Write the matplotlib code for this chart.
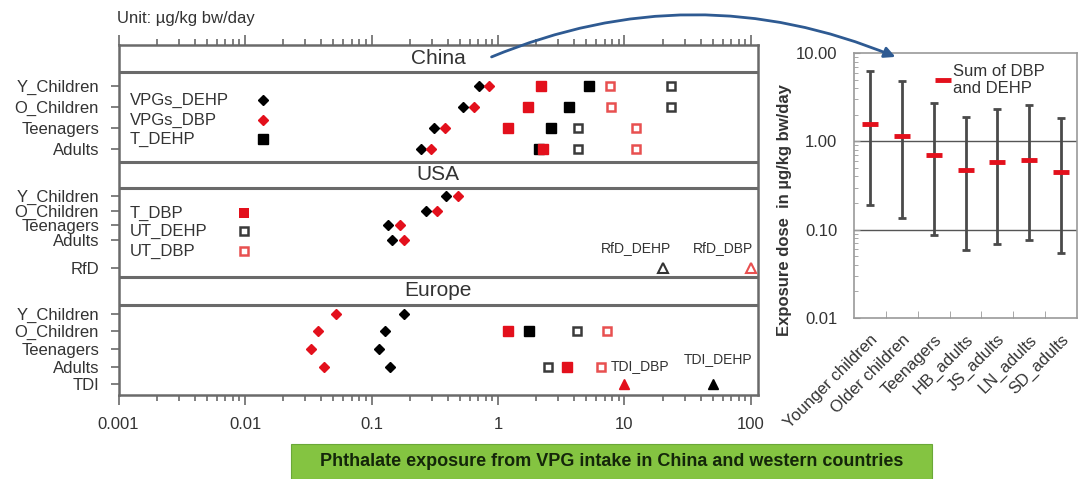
import numpy as np
import matplotlib
matplotlib.use("Agg")
import matplotlib.pyplot as plt
from matplotlib.patches import Rectangle, FancyArrowPatch
from matplotlib.ticker import FixedLocator, FuncFormatter, NullFormatter, LogLocator

plt.rcParams['font.family'] = ['Liberation Sans', 'DejaVu Sans']

# ---------------- data: left panel (µg/kg bw/day) ----------------
groups = ["Y_Children", "O_Children", "Teenagers", "Adults"]
nan = np.nan

china_vpgs_dehp = [0.71, 0.53, 0.31, 0.246]
china_vpgs_dbp = [0.85, 0.65, 0.38, 0.295]
china_t_dehp = [5.2, 3.64, 2.61, 2.12]
china_t_dbp = [2.18, 1.73, 1.19, 2.25]
china_ut_dehp = [23.3, 23.3, 4.29, 4.29]
china_ut_dbp = [7.7, 7.85, 12.4, 12.4]

usa_vpgs_dehp = [0.39, 0.27, 0.135, 0.146]
usa_vpgs_dbp = [0.48, 0.33, 0.167, 0.18]
rfd_dehp = 20
rfd_dbp = 100

europe_vpgs_dehp = [0.18, 0.127, 0.114, 0.141]
europe_vpgs_dbp = [0.052, 0.038, 0.033, 0.042]
europe_t_dehp = [nan, 1.76, nan, nan]
europe_t_dbp = [nan, 1.19, nan, 3.5]
europe_ut_dehp = [nan, 4.2, nan, 2.49]
europe_ut_dbp = [nan, 7.26, nan, 6.55]
tdi_dbp = 10
tdi_dehp = 50

x_tick_values = [0.001, 0.01, 0.1, 1, 10, 100]
x_tick_labels = ["0.001", "0.01", "0.1", "1", "10", "100"]

# ---------------- data: right panel ----------------
right_cats = ["Younger children", "Older children", "Teenagers", "HB_adults",
              "JS_adults", "LN_adults", "SD_adults"]
sum_dbp_dehp = [1.56, 1.15, 0.70, 0.47, 0.58, 0.62, 0.45]
sum_low = [0.19, 0.136, 0.086, 0.059, 0.069, 0.077, 0.055]
sum_high = [6.3, 4.77, 2.75, 1.89, 2.31, 2.57, 1.86]
right_yticks = [0.01, 0.1, 1, 10]

# ---------------- figure ----------------
W, H = 1078, 479
fig = plt.figure(figsize=(W / 100, H / 100), dpi=100)

def fx(px):
    return px / W

def fy(py):
    return 1 - py / H

TXT = '#333333'
RED = '#E3101C'
LRED = '#E85050'
FRAME = '#6a6a6a'

# ---- left axes (single axes, y in pixel-like layout units) ----
top_px, bot_px, left_px, right_px = 45, 395, 118.5, 758
ax = fig.add_axes([fx(left_px), fy(bot_px), fx(right_px - left_px), (bot_px - top_px) / H])
ax.set_xscale('log')
decade = 126.5
xmax = 10 ** (2 + (right_px - (left_px + 5 * decade)) / decade)
ax.set_xlim(0.001, xmax)
ax.set_ylim(bot_px, top_px)

# layout positions of rows (pixel rows of the reference)
china_rows = [86, 107, 128, 149]
usa_rows = [196, 211, 225, 240]
usa_rfd_row = 268
eu_rows = [314, 331, 349, 367]
eu_tdi_row = 384
strip_lines = [72, 162, 188, 277, 305]
headers = [("China", 58.5), ("USA", 175), ("Europe", 291)]

for yl in strip_lines:
    ax.axhline(yl, color=FRAME, lw=2.2, zorder=1)
for name, yy in headers:
    ax.text(0.5, yy, name, transform=ax.get_yaxis_transform(), ha='center', va='center',
            fontsize=15, color=TXT)

ms_d = 5
ms_s = 7

def diamonds(vals, rows, color):
    ax.plot(vals, rows, 'D', color=color, ms=ms_d, mec=color, ls='none', zorder=4)

def fsq(vals, rows, color):
    ax.plot(vals, rows, 's', color=color, ms=ms_s, mec=color, ls='none', zorder=4)

def osq(vals, rows, color):
    ax.plot(vals, rows, 's', mfc='white', mec=color, ms=ms_s - 1, mew=1.8, ls='none', zorder=4)

# China
diamonds(china_vpgs_dehp, china_rows, 'black')
diamonds(china_vpgs_dbp, china_rows, RED)
fsq(china_t_dehp, china_rows, 'black')
fsq(china_t_dbp, china_rows, RED)
osq(china_ut_dehp, china_rows, '#3a3a3a')
osq(china_ut_dbp, china_rows, LRED)
# USA
diamonds(usa_vpgs_dehp, usa_rows, 'black')
diamonds(usa_vpgs_dbp, usa_rows, RED)
ax.plot([rfd_dehp], [usa_rfd_row], '^', mfc='white', mec='#333333', mew=1.5, ms=7, zorder=4)
ax.plot([rfd_dbp], [usa_rfd_row], '^', mfc='white', mec=LRED, mew=1.5, ms=7, zorder=4)
ax.annotate("RfD_DEHP", (rfd_dehp, usa_rfd_row), xytext=(-19, 9), textcoords='offset points',
            ha='center', va='bottom', fontsize=10, color=TXT)
ax.annotate("RfD_DBP", (rfd_dbp, usa_rfd_row), xytext=(-20, 9), textcoords='offset points',
            ha='center', va='bottom', fontsize=10, color=TXT)
# Europe
diamonds(europe_vpgs_dehp, eu_rows, 'black')
diamonds(europe_vpgs_dbp, eu_rows, RED)
osq(europe_ut_dehp, eu_rows, '#3a3a3a')
fsq(europe_t_dehp, eu_rows, 'black')
fsq(europe_t_dbp, eu_rows, RED)
osq(europe_ut_dbp, eu_rows, LRED)
ax.plot([tdi_dbp], [eu_tdi_row], '^', color=RED, ms=6.5, zorder=4)
ax.plot([tdi_dehp], [eu_tdi_row], '^', color='black', ms=6.5, zorder=4)
ax.annotate("TDI_DBP", (tdi_dbp, eu_tdi_row), xytext=(11, 8), textcoords='offset points',
            ha='center', va='bottom', fontsize=10, color=TXT)
ax.annotate("TDI_DEHP", (tdi_dehp, eu_tdi_row), xytext=(4, 13), textcoords='offset points',
            ha='center', va='bottom', fontsize=10, color=TXT)

# in-panel legends
leg_text_x = 0.018
china_leg = [("VPGs_DEHP", 'D', 'black', 'black', 100), ("VPGs_DBP", 'D', RED, RED, 120),
             ("T_DEHP", 's', 'black', 'black', 139)]
for lab, mk, fc, ec, yy in china_leg:
    ax.text(leg_text_x, yy, lab, transform=ax.get_yaxis_transform(), ha='left', va='center',
            fontsize=12, color=TXT)
    ax.plot([0.0139], [yy], mk, mfc=fc, mec=ec, ms=ms_d if mk == 'D' else ms_s)
usa_leg = [("T_DBP", RED, RED, 213, 0), ("UT_DEHP", 'white', '#3a3a3a', 231, 1.8),
           ("UT_DBP", 'white', LRED, 251, 1.8)]
for lab, fc, ec, yy, mw in usa_leg:
    ax.text(leg_text_x, yy, lab, transform=ax.get_yaxis_transform(), ha='left', va='center',
            fontsize=12, color=TXT)
    ax.plot([0.0098], [yy], 's', mfc=fc, mec=ec, ms=ms_s if mw == 0 else ms_s - 1, mew=mw)

# y ticks
ytick_pos = china_rows + usa_rows + [usa_rfd_row] + eu_rows + [eu_tdi_row]
ytick_lab = groups + groups + ["RfD"] + groups + ["TDI"]
ax.set_yticks(ytick_pos)
ax.set_yticklabels(ytick_lab, fontsize=12, color=TXT)
ax.tick_params(axis='y', direction='out', length=6, width=1.2, color=FRAME, pad=8)

ax.xaxis.set_major_locator(FixedLocator(x_tick_values))
ax.xaxis.set_major_formatter(FuncFormatter(lambda v, p: x_tick_labels[x_tick_values.index(v)]
                                           if v in x_tick_values else ""))
ax.xaxis.set_minor_locator(LogLocator(base=10, subs=np.arange(2, 10)))
ax.xaxis.set_minor_formatter(NullFormatter())
ax.tick_params(axis='x', which='both', top=True, bottom=True, direction='out', color=FRAME,
               width=1.2, labelsize=12, labelcolor=TXT, pad=9)
ax.tick_params(axis='x', which='major', length=7)
ax.tick_params(axis='x', which='minor', length=4)
for s in ax.spines.values():
    s.set_color(FRAME)
    s.set_linewidth(1.8)

# ---- right axes ----
rx0, rx1, ry0, ry1 = 854, 1077, 53, 318
ax2 = fig.add_axes([fx(rx0), fy(ry1), fx(rx1 - rx0), (ry1 - ry0) / H])
ax2.set_yscale('log')
ax2.set_ylim(0.01, 10)
xs = np.arange(len(right_cats))
ax2.set_xlim(-0.5, len(right_cats) - 0.5)
for g in [0.1, 1]:
    ax2.axhline(g, color='#555555', lw=1, zorder=1)
sums = np.array(sum_dbp_dehp)
ax2.errorbar(xs, sums, yerr=[sums - np.array(sum_low), np.array(sum_high) - sums], fmt='none',
             ecolor='#4a4a4a', elinewidth=2, capsize=3, capthick=2, zorder=2)
ax2.plot(xs, sums, '_', color=RED, ms=11, mew=3.5, ls='none', zorder=3, label="Sum of DBP\nand DEHP")
ax2.legend(loc='upper left', bbox_to_anchor=(fx(930), fy(57)), bbox_transform=fig.transFigure,
           frameon=False, fontsize=12, handlelength=0.7, handletextpad=0.3, borderaxespad=0,
           labelcolor=TXT)
ax2.set_yticks(right_yticks)
ax2.yaxis.set_major_formatter(FuncFormatter(lambda v, p: "%.2f" % v))
ax2.yaxis.set_minor_formatter(NullFormatter())
ax2.tick_params(axis='y', which='both', direction='in', color='#999999', labelsize=12,
                labelcolor=TXT, pad=12)
ax2.tick_params(axis='y', which='major', length=4)
ax2.tick_params(axis='y', which='minor', length=3)
ax2.set_xticks(xs)
ax2.set_xticklabels(right_cats, rotation=45, ha='right', rotation_mode='anchor', fontsize=12,
                    color=TXT)
ax2.set_xticks(xs[:-1] + 0.5, minor=True)
ax2.tick_params(axis='x', which='major', length=0, pad=10)
ax2.tick_params(axis='x', which='minor', direction='in', length=5, color='#999999')
for s in ax2.spines.values():
    s.set_color('#999999')
    s.set_linewidth(1.2)
fig.text(fx(784), fy(210), "Exposure dose  in µg/kg bw/day", rotation=90, ha='center', va='center',
         fontsize=12, fontweight='bold', color=TXT)

# ---- annotations ----
fig.text(fx(186), fy(19), "Unit: µg/kg bw/day", ha='center', va='center', fontsize=12, color=TXT)

fig.patches.append(Rectangle((fx(291), 0), fx(932 - 291), (479 - 444) / H,
                             transform=fig.transFigure, fc='#84C441', ec='#6aa838', lw=0.8))
fig.text(fx(611.5), fy(462), "Phthalate exposure from VPG intake in China and western countries",
         ha='center', va='center', fontsize=13, fontweight='bold', color='#14260a')

arrow = FancyArrowPatch((fx(489), fy(58)), (fx(898), fy(58)), transform=fig.transFigure,
                        connectionstyle="arc3,rad=-0.21", arrowstyle='-|>', mutation_scale=16,
                        lw=2, color='#2E5A92', zorder=10)
fig.add_artist(arrow)

fig.savefig("out.png", dpi=100)
